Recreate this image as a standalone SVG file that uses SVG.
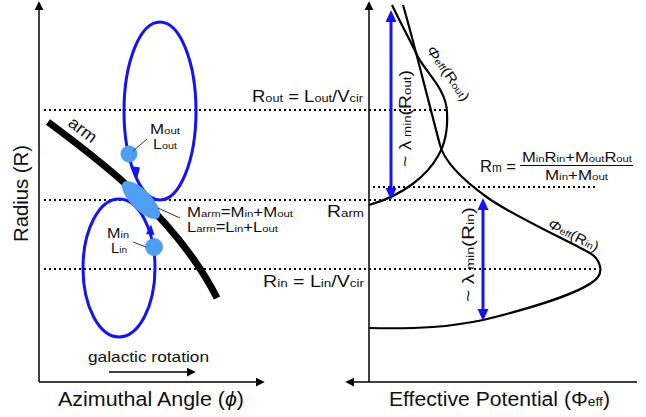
<svg xmlns="http://www.w3.org/2000/svg" width="646" height="417" viewBox="0 0 646 417">
<style>
text{font-family:"Liberation Sans",Arial,sans-serif;fill:#111}
.axis{stroke:#000;stroke-width:1.5;fill:none}
.dot{stroke:#000;stroke-width:2;stroke-dasharray:2 3;fill:none}
.curve{stroke:#000;stroke-width:2.2;fill:none}
.orbit{stroke:#1414f0;stroke-width:3;fill:none}
.blob{fill:#4f9ff0}
.lead{stroke:#333;stroke-width:1}
.barr{stroke:#1414f0;stroke-width:3;fill:none}
.lbl{font-size:15px}
.sub{font-size:10px}
.big{font-size:20px}
</style>
<defs>
<marker id="ah" markerUnits="userSpaceOnUse" markerWidth="10" markerHeight="10" refX="0" refY="0" viewBox="0 -4 8 8" orient="auto" overflow="visible">
<path d="M0,-3.5 L7,0 L0,3.5 z" fill="#000"/>
</marker>
<marker id="bh" markerUnits="userSpaceOnUse" markerWidth="14" markerHeight="12" refX="0" refY="0" viewBox="0 -6 12 12" orient="auto-start-reverse" overflow="visible">
<path d="M0,-5.5 L12,0 L0,5.5 z" fill="#1414f0"/>
</marker>
</defs>

<g id="axes">
<line class="axis" x1="39" y1="382" x2="39" y2="10" marker-end="url(#ah)"/>
<line class="axis" x1="39" y1="382" x2="256" y2="382" marker-end="url(#ah)"/>
<line class="axis" x1="369" y1="382" x2="369" y2="10" marker-end="url(#ah)"/>
<line class="axis" x1="637" y1="382" x2="354" y2="382" marker-end="url(#ah)"/>
</g>

<g id="levels">
<line class="dot" x1="44" y1="110" x2="447" y2="110"/>
<line class="dot" x1="373" y1="187" x2="595" y2="187"/>
<line class="dot" x1="44" y1="200" x2="478" y2="200"/>
<line class="dot" x1="44" y1="269" x2="598" y2="269"/>
</g>

<g id="arm">
<path d="M48,122 C95,157 175,215 217,298" stroke="#000" stroke-width="7" fill="none"/>
<text class="lbl" style="font-size:17px" transform="translate(67,125) rotate(37)" textLength="31" lengthAdjust="spacingAndGlyphs">arm</text>
</g>

<g id="outer-orbit">
<ellipse class="orbit" cx="160" cy="111" rx="36" ry="89"/>
<path d="M130.5,166 L140,167.5 L137.5,177.5 z" fill="#1414f0"/>
</g>

<g id="inner-orbit">
<ellipse class="orbit" cx="119" cy="268" rx="36" ry="69"/>
<path d="M146,234 L154.5,235 L151,224.5 z" fill="#1414f0"/>
</g>

<g id="m-out">
<circle class="blob" cx="129" cy="154" r="8.5"/>
<line class="lead" x1="133" y1="151" x2="147" y2="139"/>
<text class="lbl" x="150" y="134" style="font-size:14px" textLength="30" lengthAdjust="spacingAndGlyphs">M<tspan style="font-size:9.5px">out</tspan></text>
<text class="lbl" x="153" y="149" style="font-size:14px" textLength="24" lengthAdjust="spacingAndGlyphs">L<tspan style="font-size:9.5px">out</tspan></text>
</g>

<g id="m-arm">
<ellipse class="blob" cx="141" cy="200" rx="25" ry="10" transform="rotate(45 141 200)"/>
<line class="lead" x1="158" y1="208" x2="180" y2="218"/>
<text class="lbl" x="187" y="217" style="font-size:14px" textLength="106" lengthAdjust="spacingAndGlyphs">M<tspan style="font-size:9.5px">arm</tspan>=M<tspan style="font-size:9.5px">in</tspan>+M<tspan style="font-size:9.5px">out</tspan></text>
<text class="lbl" x="187" y="232" style="font-size:14px" textLength="91" lengthAdjust="spacingAndGlyphs">L<tspan style="font-size:9.5px">arm</tspan>=L<tspan style="font-size:9.5px">in</tspan>+L<tspan style="font-size:9.5px">out</tspan></text>
</g>

<g id="m-in">
<circle class="blob" cx="154" cy="247" r="9"/>
<line class="lead" x1="133" y1="242" x2="146" y2="247"/>
<text class="lbl" x="107" y="238" style="font-size:14px" textLength="22" lengthAdjust="spacingAndGlyphs">M<tspan style="font-size:9.5px">in</tspan></text>
<text class="lbl" x="111" y="253" style="font-size:14px" textLength="16" lengthAdjust="spacingAndGlyphs">L<tspan style="font-size:9.5px">in</tspan></text>
</g>

<g id="rotation">
<text class="lbl" x="88" y="362" textLength="121" lengthAdjust="spacingAndGlyphs">galactic rotation</text>
<line x1="109" y1="372" x2="187" y2="372" stroke="#000" stroke-width="1.5" marker-end="url(#ah)"/>
</g>

<g id="axis-labels">
<text class="big" transform="translate(28,242) rotate(-90)" textLength="97" lengthAdjust="spacingAndGlyphs">Radius (R)</text>
<text class="big" x="58" y="406" textLength="186" lengthAdjust="spacingAndGlyphs">Azimuthal Angle (<tspan font-style="italic">ϕ</tspan>)</text>
<text class="big" x="389" y="406" textLength="221" lengthAdjust="spacingAndGlyphs">Effective Potential (Φ<tspan style="font-size:13px">eff</tspan>)</text>
</g>

<g id="level-labels">
<text class="lbl" x="252" y="102" style="font-size:16px" textLength="111" lengthAdjust="spacingAndGlyphs">R<tspan style="font-size:11px">out</tspan> = L<tspan style="font-size:11px">out</tspan>/V<tspan style="font-size:11px">cir</tspan></text>
<text class="lbl" x="327" y="217" style="font-size:16px" textLength="37" lengthAdjust="spacingAndGlyphs">R<tspan style="font-size:11px">arm</tspan></text>
<text class="lbl" x="263" y="287" style="font-size:16px" textLength="101" lengthAdjust="spacingAndGlyphs">R<tspan style="font-size:11px">in</tspan> = L<tspan style="font-size:11px">in</tspan>/V<tspan style="font-size:11px">cir</tspan></text>
</g>

<g id="rm-label">
<text class="lbl" x="480" y="172" style="font-size:17px" textLength="36" lengthAdjust="spacingAndGlyphs">R<tspan style="font-size:12px">m</tspan> =</text>
<text class="lbl" x="522" y="162" style="font-size:14px" textLength="110" lengthAdjust="spacingAndGlyphs">M<tspan style="font-size:9.5px">in</tspan>R<tspan style="font-size:9.5px">in</tspan>+M<tspan style="font-size:9.5px">out</tspan>R<tspan style="font-size:9.5px">out</tspan></text>
<line x1="520" y1="165.5" x2="633" y2="165.5" stroke="#111" stroke-width="1.2"/>
<text class="lbl" x="545" y="180" style="font-size:14px" textLength="63" lengthAdjust="spacingAndGlyphs">M<tspan style="font-size:9.5px">in</tspan>+M<tspan style="font-size:9.5px">out</tspan></text>
</g>

<g id="phi-out">
<path class="curve" d="M392,5 C400,22 410,40 417,55 C425,72 446,88 447,112 C448,130 444,146 438,156 C428,174 405,195 369,205"/>
<text class="lbl" transform="translate(426,50) rotate(55)" style="font-size:14px" textLength="64" lengthAdjust="spacingAndGlyphs"><tspan font-style="italic">Φ</tspan><tspan style="font-size:9.5px">eff</tspan>(R<tspan style="font-size:9.5px">out</tspan>)</text>
</g>

<g id="phi-in">
<path class="curve" d="M403,5 C412,35 428,100 440,145 C444,160 460,178 488,198 C512,215 560,237 588,252 C600,258 603,270 598,277 C588,290 540,306 483,320 C450,327 420,329 369,328"/>
<text class="lbl" transform="translate(547,227) rotate(27)" style="font-size:14px" textLength="55" lengthAdjust="spacingAndGlyphs"><tspan font-style="italic">Φ</tspan><tspan style="font-size:9.5px">eff</tspan>(R<tspan style="font-size:9.5px">in</tspan>)</text>
</g>

<g id="lambda-out">
<line class="barr" x1="391" y1="22" x2="391" y2="188" marker-start="url(#bh)" marker-end="url(#bh)"/>
<text class="lbl" transform="translate(411,167) rotate(-90)" style="font-size:16px" textLength="97" lengthAdjust="spacingAndGlyphs">~ λ<tspan style="font-size:11px"> min</tspan>(R<tspan style="font-size:11px">out</tspan>)</text>
</g>

<g id="lambda-in">
<line class="barr" x1="483" y1="210" x2="483" y2="309" marker-start="url(#bh)" marker-end="url(#bh)"/>
<text class="lbl" transform="translate(474,302) rotate(-90)" style="font-size:16px" textLength="95" lengthAdjust="spacingAndGlyphs">~ λ<tspan style="font-size:11px"> min</tspan>(R<tspan style="font-size:11px">in</tspan>)</text>
</g>
</svg>
